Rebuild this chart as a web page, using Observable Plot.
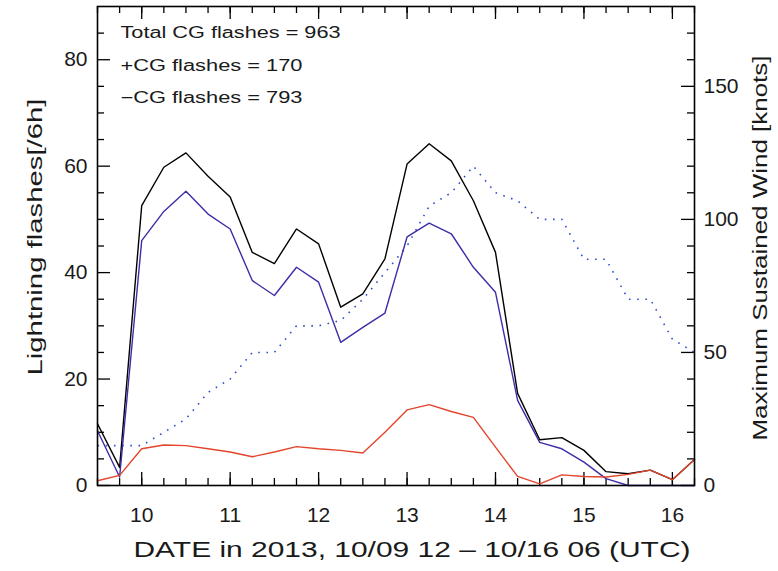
<!DOCTYPE html>
<html><head><meta charset="utf-8">
<script src="https://cdn.jsdelivr.net/npm/d3@7"></script>
<script src="https://cdn.jsdelivr.net/npm/@observablehq/plot@0.6"></script>
<style>body{margin:0;background:#fff}</style>
</head><body><div id="chart"></div>
<script>
// 6-hourly times (day of October 2013, UTC)
const times = [9.5, 9.75, 10, 10.25, 10.5, 10.75, 11, 11.25, 11.5, 11.75, 12, 12.25, 12.5, 12.75, 13, 13.25, 13.5, 13.75, 14, 14.25, 14.5, 14.75, 15, 15.25, 15.5, 15.75, 16, 16.25];
const totalCG    = [11.6, 3.4, 52.6, 59.8, 62.5, 58.1, 54.2, 43.8, 41.7, 48.2, 45.4, 33.5, 36.0, 42.6, 60.4, 64.2, 61.0, 53.5, 43.8, 17.3, 8.6, 9.0, 6.6, 2.6, 2.2, 2.9, 1.1, 4.9];
const positiveCG = [0.9, 1.9, 6.9, 7.6, 7.5, 6.9, 6.3, 5.4, 6.3, 7.3, 6.9, 6.6, 6.1, 10.0, 14.2, 15.2, 13.9, 12.8, 7.2, 1.7, 0.3, 2.0, 1.7, 1.6, 2.1, 2.9, 1.1, 4.9];
const negativeCG = [10.3, 1.6, 46.0, 51.5, 55.3, 51.0, 48.2, 38.5, 35.7, 41.0, 38.2, 26.9, 29.7, 32.4, 46.7, 49.3, 47.3, 41.0, 36.3, 16.0, 8.1, 6.9, 4.4, 1.3, 0, 0, 0, 0];
const windKnots  = [15, 15, 15, 20, 25, 35, 40, 50, 50, 60, 60, 62, 70, 80, 90, 105, 110, 120, 110, 107, 100, 100, 85, 85, 70, 70, 55, 50];

// tick values / labels
const xMajor = [10, 11, 12, 13, 14, 15, 16];
const leftMajor = [0, 20, 40, 60, 80];
const leftMinor = [5, 10, 15, 25, 30, 35, 45, 50, 55, 65, 70, 75, 85];
const rightMajor = [0, 50, 100, 150];
const rightMinor = [10, 20, 30, 40, 60, 70, 80, 90, 110, 120, 130, 140, 160, 170];

const annotations = ["Total CG flashes = 963", "+CG flashes = 170", "\u2212CG flashes = 793"];
const xTitle = "DATE in 2013, 10/09 12 \u2013 10/16 06 (UTC)";
const yTitle = "Lightning flashes[/6h]";
const y2Title = "Maximum Sustained Wind [knots]";

const data = times.map((t, i) => ({t, total: totalCG[i], pos: positiveCG[i], neg: negativeCG[i], wind: windKnots[i]}));

const W = 778, H = 571, mL = 97, mR = 84, mT = 6, mB = 86;
const innerW = W - mL - mR, innerH = H - mT - mB;
const MAJ = 13, MIN = 7;
const ink = "#1a1a1a";

const chart = Plot.plot({
  width: W, height: H,
  marginLeft: mL, marginRight: mR, marginTop: mT, marginBottom: mB,
  x: {domain: [9.5, 16.25]},
  y: {domain: [0, 90]},
  style: {fontFamily: "Liberation Sans, Arial, sans-serif", fontSize: "20px", color: ink, background: "#fff"},
  marks: [
    // inward ticks: left
    Plot.tickY(leftMinor, {y: d => d, insetRight: innerW - MIN, stroke: "#000", strokeWidth: 1.3}),
    Plot.tickY(leftMajor, {y: d => d, insetRight: innerW - MAJ, stroke: "#000", strokeWidth: 1.3}),
    // right (knots = 2 x flashes units)
    Plot.tickY(rightMinor, {y: d => d / 2, insetLeft: innerW - MIN, stroke: "#000", strokeWidth: 1.3}),
    Plot.tickY(rightMajor, {y: d => d / 2, insetLeft: innerW - MAJ, stroke: "#000", strokeWidth: 1.3}),
    // bottom & top
    Plot.tickX(times, {x: d => d, insetTop: innerH - MIN, stroke: "#000", strokeWidth: 1.3}),
    Plot.tickX(xMajor, {x: d => d, insetTop: innerH - MAJ, stroke: "#000", strokeWidth: 1.3}),
    Plot.tickX(times, {x: d => d, insetBottom: innerH - MIN, stroke: "#000", strokeWidth: 1.3}),
    Plot.tickX(xMajor, {x: d => d, insetBottom: innerH - MAJ, stroke: "#000", strokeWidth: 1.3}),

    // wind (dotted, right axis)
    Plot.line(data, {x: "t", y: d => d.wind / 2, stroke: "#2f4fd0", strokeWidth: 1.6, strokeDasharray: "1.6 6.6", strokeLinecap: "butt"}),
    // flashes
    Plot.line(data, {x: "t", y: "total", stroke: "#000", strokeWidth: 1.4}),
    Plot.line(data, {x: "t", y: "neg", stroke: "#3b2ea6", strokeWidth: 1.4}),
    Plot.line(data, {x: "t", y: "pos", stroke: "#e2452c", strokeWidth: 1.4}),

    Plot.frame({stroke: "#000", strokeWidth: 1.6}),

    // axes (labels only)
    Plot.axisX(xMajor, {tickSize: 0, tickPadding: 22, label: null, fontSize: 21}),
    Plot.axisY(leftMajor, {anchor: "left", tickSize: 0, tickPadding: 10, label: null, fontSize: 21}),
    Plot.axisY(rightMajor.map(v => v / 2), {anchor: "right", tickSize: 0, tickPadding: 9, label: null, fontSize: 21, tickFormat: d => String(d * 2)}),

    // titles
    Plot.text([yTitle], {frameAnchor: "left", textAnchor: "middle", lineAnchor: "middle", dx: -62, dy: -9, rotate: -90, fontSize: 21, fill: ink}),
    Plot.text([y2Title], {frameAnchor: "right", textAnchor: "middle", lineAnchor: "middle", dx: 66, dy: 2, rotate: -90, fontSize: 21, fill: ink}),
    Plot.text([xTitle], {frameAnchor: "bottom", textAnchor: "middle", dx: 16, dy: 71, fontSize: 22, fill: ink}),

    // annotations
    Plot.text([annotations[0]], {frameAnchor: "top-left", textAnchor: "start", lineAnchor: "middle", dx: 23, dy: 26, fontSize: 16, fill: ink}),
    Plot.text([annotations[1]], {frameAnchor: "top-left", textAnchor: "start", lineAnchor: "middle", dx: 23, dy: 59, fontSize: 16, fill: ink}),
    Plot.text([annotations[2]], {frameAnchor: "top-left", textAnchor: "start", lineAnchor: "middle", dx: 23, dy: 91, fontSize: 16, fill: ink})
  ]
});

// widen text to mimic the wide plotting font of the original
const fit = {};
fit[xTitle] = 557; fit[yTitle] = 277; fit[y2Title] = 385;
fit[annotations[0]] = 220; fit[annotations[1]] = 182; fit[annotations[2]] = 182;
d3.select(chart).selectAll("text").each(function() {
  const s = this.textContent;
  if (fit[s]) { this.setAttribute("textLength", fit[s]); this.setAttribute("lengthAdjust", "spacingAndGlyphs"); }
});

document.getElementById("chart").appendChild(chart);
</script>
</body></html>
